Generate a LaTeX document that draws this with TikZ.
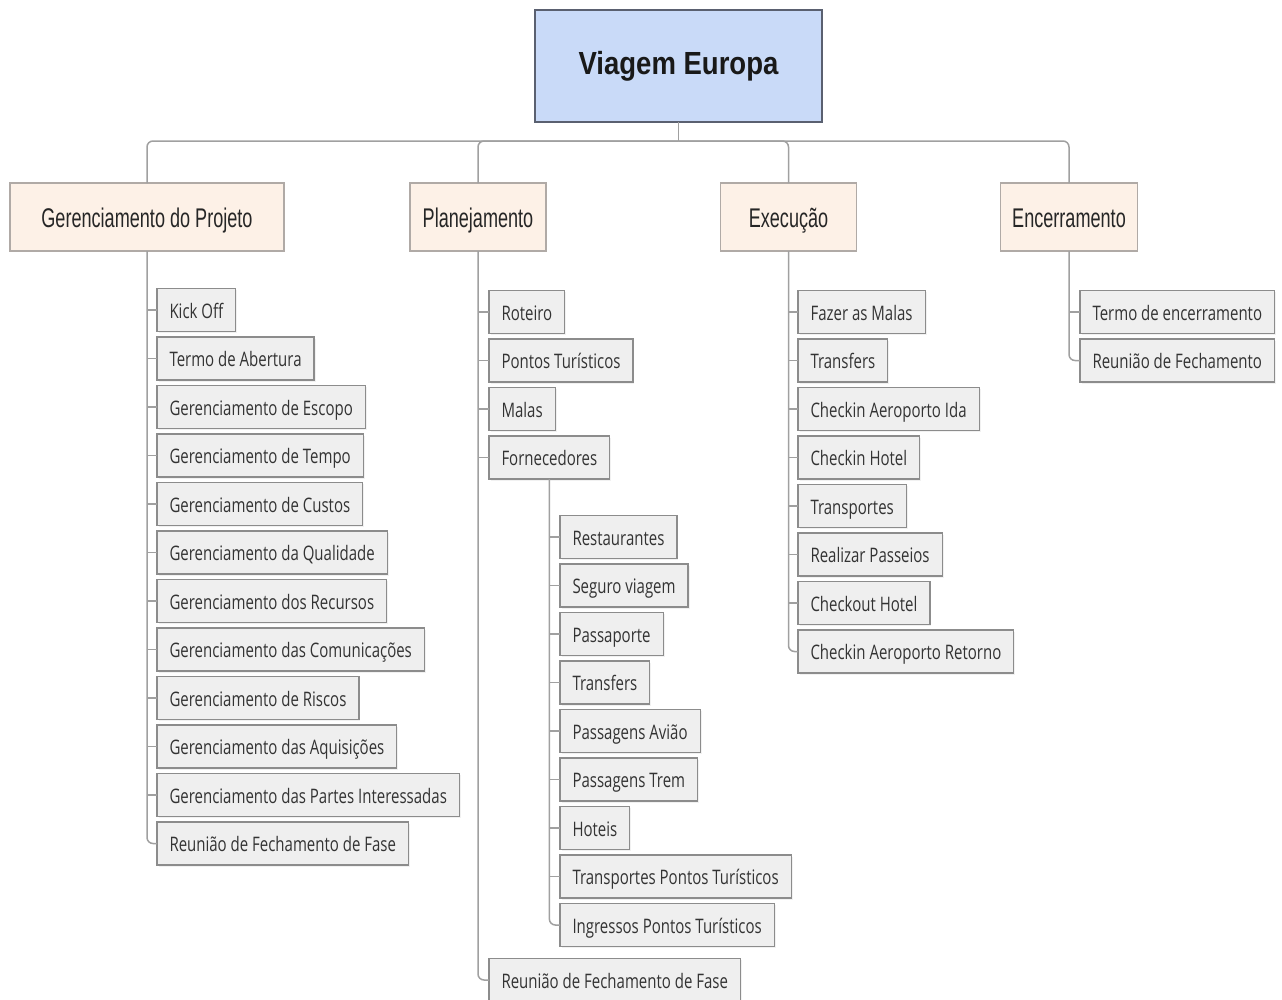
\documentclass[tikz,border=0pt]{standalone}
\usepackage{fontspec}
\usepackage{xcolor}
\usepackage{tikz}
\usetikzlibrary{positioning,calc,shadows}
\newfontfamily\titlefont[FakeStretch=0.86]{Liberation Sans}
\newfontfamily\headfont[FakeStretch=0.67]{Liberation Sans}
\newfontfamily\leaffont[FakeStretch=0.75]{Open Sans}
\definecolor{rootfill}{HTML}{C9DAF8}
\definecolor{rootline}{HTML}{5A6070}
\definecolor{headfill}{HTML}{FDF1E7}
\definecolor{headline}{HTML}{B0AAA6}
\definecolor{leaffill}{HTML}{EFEFEF}
\definecolor{leafline}{HTML}{8C8C8C}
\definecolor{linkgray}{HTML}{A0A0A0}
\tikzset{
  rootbox/.style={draw=rootline, line width=1.3pt, fill=rootfill, outer sep=0pt,
                  minimum width=287pt, minimum height=112pt,
                  font=\titlefont\bfseries\fontsize{32}{36}\selectfont, text=black!90},
  headbox/.style={draw=headline, line width=1.2pt, fill=headfill, outer sep=0pt,
                  minimum width=136pt, minimum height=68pt, inner xsep=12pt, inner ysep=0pt,
                  text height=20pt, text depth=0pt,
                  font=\headfont\fontsize{27}{30}\selectfont, text=black!85},
  leaf/.style={draw=leafline, line width=1.2pt, fill=leaffill, outer sep=0pt,
               minimum height=43pt, inner xsep=12.5pt, inner ysep=0pt,
               text height=16pt, text depth=0pt,
               drop shadow={shadow xshift=1.5pt, shadow yshift=-1.5pt, fill=black!10},
               font=\leaffont\fontsize{20}{24}\selectfont, text=black!80},
  link/.style={draw=linkgray, line width=1.5pt},
  elbow/.style={link, rounded corners=6pt},
}

\begin{document}
\begin{tikzpicture}[x=1pt, y=-1pt, node distance=5.5pt]
  \path[use as bounding box, fill=white] (0,0) rectangle (1282,999);
  % root and phases
  \node[rootbox] (root) at (678.5,66) {Viagem Europa};
  \node[headbox, minimum width=274pt] (gp) at (147,217) {Gerenciamento do Projeto};
  \node[headbox] (pl) at (478,217) {Planejamento};
  \node[headbox] (ex) at (788.5,217) {Execução};
  \node[headbox] (en) at (1069,217) {Encerramento};
  \coordinate (bus) at ($(root.south)+(0,19)$);
  \draw[link] (root.south) -- (bus);
  \draw[elbow] (bus) -| (gp.north);
  \draw[elbow] (bus) -| (pl.north);
  \draw[elbow] (bus) -| (ex.north);
  \draw[elbow] (bus) -| (en.north);

  % Gerenciamento do Projeto
  \node[leaf, anchor=west] at (157,310) (gp1) {Kick Off};
  \node[leaf, below=of gp1.south west, anchor=north west] (gp2) {Termo de Abertura};
  \node[leaf, below=of gp2.south west, anchor=north west] (gp3) {Gerenciamento de Escopo};
  \node[leaf, below=of gp3.south west, anchor=north west] (gp4) {Gerenciamento de Tempo};
  \node[leaf, below=of gp4.south west, anchor=north west] (gp5) {Gerenciamento de Custos};
  \node[leaf, below=of gp5.south west, anchor=north west] (gp6) {Gerenciamento da Qualidade};
  \node[leaf, below=of gp6.south west, anchor=north west] (gp7) {Gerenciamento dos Recursos};
  \node[leaf, below=of gp7.south west, anchor=north west] (gp8) {Gerenciamento das Comunicações};
  \node[leaf, below=of gp8.south west, anchor=north west] (gp9) {Gerenciamento de Riscos};
  \node[leaf, below=of gp9.south west, anchor=north west] (gp10) {Gerenciamento das Aquisições};
  \node[leaf, below=of gp10.south west, anchor=north west] (gp11) {Gerenciamento das Partes Interessadas};
  \node[leaf, below=of gp11.south west, anchor=north west] (gp12) {Reunião de Fechamento de Fase};
  \draw[elbow] (gp.south) |- (gp12.west);
  \draw[link] (gp1.west) -- (gp1.west -| gp.south);  \draw[link] (gp2.west) -- (gp2.west -| gp.south);
  \draw[link] (gp3.west) -- (gp3.west -| gp.south);  \draw[link] (gp4.west) -- (gp4.west -| gp.south);
  \draw[link] (gp5.west) -- (gp5.west -| gp.south);  \draw[link] (gp6.west) -- (gp6.west -| gp.south);
  \draw[link] (gp7.west) -- (gp7.west -| gp.south);  \draw[link] (gp8.west) -- (gp8.west -| gp.south);
  \draw[link] (gp9.west) -- (gp9.west -| gp.south);  \draw[link] (gp10.west) -- (gp10.west -| gp.south);
  \draw[link] (gp11.west) -- (gp11.west -| gp.south);

  % Planejamento
  \node[leaf, anchor=west] at (489,312) (pl1) {Roteiro};
  \node[leaf, below=of pl1.south west, anchor=north west] (pl2) {Pontos Turísticos};
  \node[leaf, below=of pl2.south west, anchor=north west] (pl3) {Malas};
  \node[leaf, below=of pl3.south west, anchor=north west] (pl4) {Fornecedores};
  \node[leaf, anchor=west] at (560,537) (fo1) {Restaurantes};
  \node[leaf, below=of fo1.south west, anchor=north west] (fo2) {Seguro viagem};
  \node[leaf, below=of fo2.south west, anchor=north west] (fo3) {Passaporte};
  \node[leaf, below=of fo3.south west, anchor=north west] (fo4) {Transfers};
  \node[leaf, below=of fo4.south west, anchor=north west] (fo5) {Passagens Avião};
  \node[leaf, below=of fo5.south west, anchor=north west] (fo6) {Passagens Trem};
  \node[leaf, below=of fo6.south west, anchor=north west] (fo7) {Hoteis};
  \node[leaf, below=of fo7.south west, anchor=north west] (fo8) {Transportes Pontos Turísticos};
  \node[leaf, below=of fo8.south west, anchor=north west] (fo9) {Ingressos Pontos Turísticos};
  \node[leaf, below=12pt of fo9.south west, anchor=north west, xshift=-71pt] (pl5) {Reunião de Fechamento de Fase};
  \draw[elbow] (pl.south) |- (pl5.west);
  \draw[link] (pl1.west) -- (pl1.west -| pl.south);  \draw[link] (pl2.west) -- (pl2.west -| pl.south);
  \draw[link] (pl3.west) -- (pl3.west -| pl.south);  \draw[link] (pl4.west) -- (pl4.west -| pl.south);
  \draw[elbow] (pl4.south) |- (fo9.west);
  \draw[link] (fo1.west) -- (fo1.west -| pl4.south);  \draw[link] (fo2.west) -- (fo2.west -| pl4.south);
  \draw[link] (fo3.west) -- (fo3.west -| pl4.south);  \draw[link] (fo4.west) -- (fo4.west -| pl4.south);
  \draw[link] (fo5.west) -- (fo5.west -| pl4.south);  \draw[link] (fo6.west) -- (fo6.west -| pl4.south);
  \draw[link] (fo7.west) -- (fo7.west -| pl4.south);  \draw[link] (fo8.west) -- (fo8.west -| pl4.south);

  % Execucao
  \node[leaf, anchor=west] at (798,312) (ex1) {Fazer as Malas};
  \node[leaf, below=of ex1.south west, anchor=north west] (ex2) {Transfers};
  \node[leaf, below=of ex2.south west, anchor=north west] (ex3) {Checkin Aeroporto Ida};
  \node[leaf, below=of ex3.south west, anchor=north west] (ex4) {Checkin Hotel};
  \node[leaf, below=of ex4.south west, anchor=north west] (ex5) {Transportes};
  \node[leaf, below=of ex5.south west, anchor=north west] (ex6) {Realizar Passeios};
  \node[leaf, below=of ex6.south west, anchor=north west] (ex7) {Checkout Hotel};
  \node[leaf, below=of ex7.south west, anchor=north west] (ex8) {Checkin Aeroporto Retorno};
  \draw[elbow] (ex.south) |- (ex8.west);
  \draw[link] (ex1.west) -- (ex1.west -| ex.south);  \draw[link] (ex2.west) -- (ex2.west -| ex.south);
  \draw[link] (ex3.west) -- (ex3.west -| ex.south);  \draw[link] (ex4.west) -- (ex4.west -| ex.south);
  \draw[link] (ex5.west) -- (ex5.west -| ex.south);  \draw[link] (ex6.west) -- (ex6.west -| ex.south);
  \draw[link] (ex7.west) -- (ex7.west -| ex.south);

  % Encerramento
  \node[leaf, anchor=west] at (1080,312) (en1) {Termo de encerramento};
  \node[leaf, below=of en1.south west, anchor=north west] (en2) {Reunião de Fechamento};
  \draw[elbow] (en.south) |- (en2.west);
  \draw[link] (en1.west) -- (en1.west -| en.south);
\end{tikzpicture}
\end{document}
